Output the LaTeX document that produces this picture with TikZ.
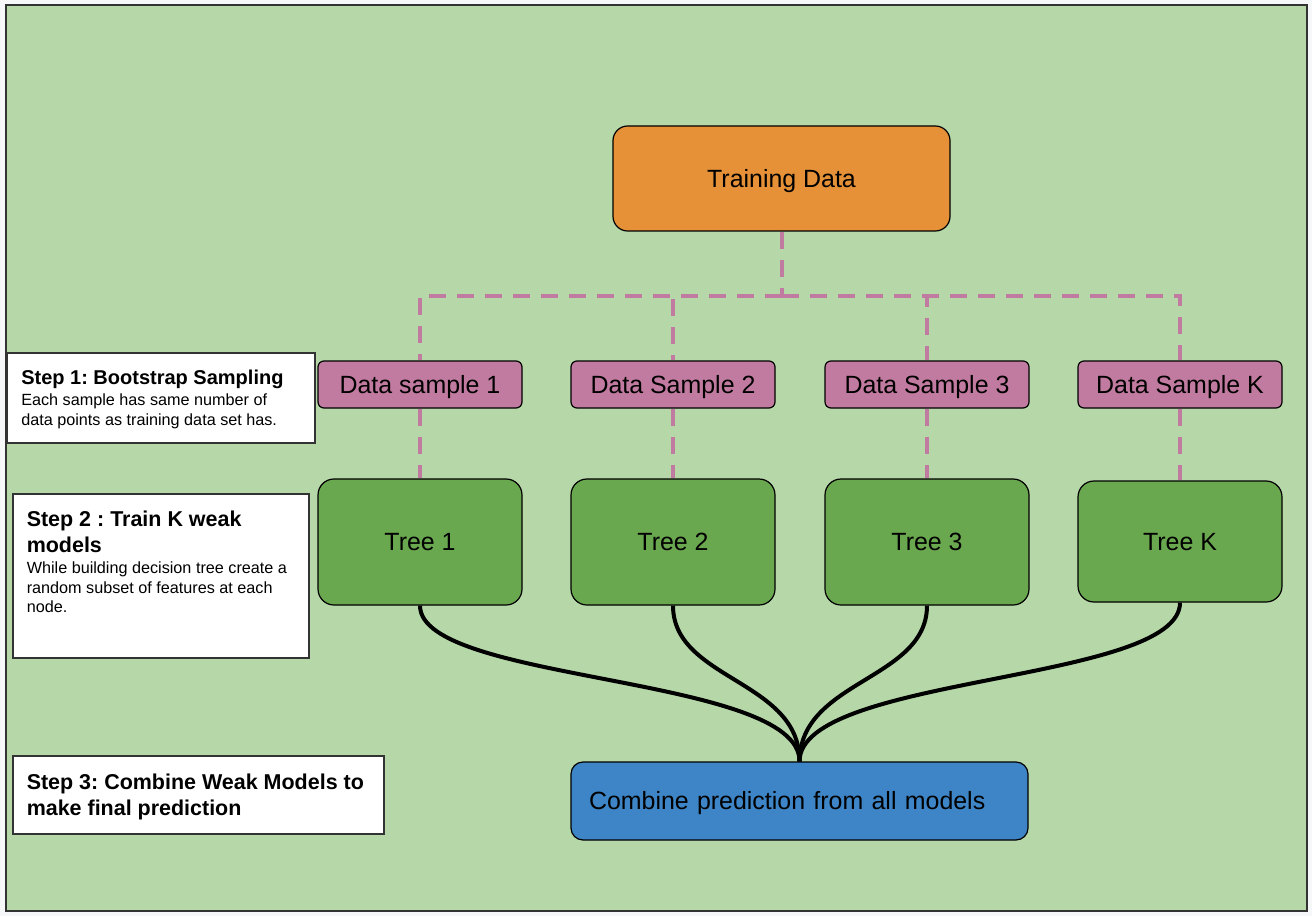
\documentclass[tikz,border=0pt]{standalone}
\usepackage{fontspec}
\setmainfont{Liberation Sans}
\usetikzlibrary{calc}
\frenchspacing

\definecolor{pagegray}{HTML}{F6F7F9}
\definecolor{bggreen}{HTML}{B6D7A8}
\definecolor{trainorange}{HTML}{E69138}
\definecolor{samplepink}{HTML}{C27BA0}
\definecolor{treegreen}{HTML}{6AA84F}
\definecolor{combineblue}{HTML}{3D85C6}

\begin{document}
\begin{tikzpicture}[x=0.75pt, y=-0.75pt,
    box/.style={draw=black, line width=0.9pt, inner sep=0pt, text height=13.4pt, text depth=-1.2pt, font=\fontsize{18.7}{22}\selectfont},
    trainbox/.style={box, fill=trainorange, rounded corners=11pt, minimum width=252.75pt, minimum height=78.75pt},
    samplebox/.style={box, fill=samplepink, rounded corners=4.5pt, minimum width=153pt, minimum height=35.25pt},
    treebox/.style={box, fill=treegreen, rounded corners=12pt, minimum width=153pt, minimum height=94.5pt},
    combinebox/.style={box, fill=combineblue, rounded corners=9pt, minimum width=342.75pt, minimum height=58.5pt, text width=315.75pt, align=left},
    stepbox/.style={draw=black!80, line width=0.9pt, fill=white, inner sep=0pt},
    steptitle/.style={inner sep=0pt, anchor=base west, align=left, font=\bfseries\fontsize{16.1}{19.2}\selectfont},
    stepnote/.style={inner sep=0pt, anchor=base west, align=left, font=\fontsize{12.15}{14.6}\selectfont},
    samplink/.style={draw=samplepink, line width=3pt, dash pattern=on 12.75pt off 8.25pt},
    merge/.style={draw=black, line width=3pt}]

    % page and frame
    \fill[pagegray] (0,0) rectangle (1312,916);
    \useasboundingbox (0,0) rectangle (1312,916);
    \draw[fill=bggreen, draw=black!80, line width=1.5pt] (6,5) rectangle (1307,911);

    % steps on the left (multi-line texts sit on their last baseline)
    \node[stepbox, minimum width=231pt, minimum height=67.5pt] (st1) at (161,398) {};
    \node[steptitle, font=\bfseries\fontsize{15}{18}\selectfont] (st1title) at (21,384.5) {Step 1: Bootstrap Sampling};
    \node[stepnote] (st1note) at (21,425) {Each sample has same number of\\data points as training data set has.};

    \node[stepbox, minimum width=222pt, minimum height=123pt] (st2) at (161,576) {};
    \node[steptitle] (st2title) at (26.5,552.3) {Step 2 : Train K weak\\models};
    \node[stepnote] (st2note) at (26.5,612.5) {While building decision tree create a\\random subset of features at each\\node.};

    \node[stepbox, minimum width=278.25pt, minimum height=58.5pt] (st3) at (198.5,795) {};
    \node[steptitle] (st3title) at (26.5,815) {Step 3: Combine Weak Models to\\make final prediction};

    % boxes
    \node[trainbox] (train) at (781.5,178.5) {Training Data};

    \node[samplebox] (s1) at (420,384.5) {Data sample 1};
    \node[samplebox] (s2) at (673,384.5) {Data Sample 2};
    \node[samplebox] (s3) at (927,384.5) {Data Sample 3};
    \node[samplebox] (sk) at (1180,384.5) {Data Sample K};

    \node[treebox] (t1) at (420,542) {Tree 1};
    \node[treebox] (t2) at (673,542) {Tree 2};
    \node[treebox] (t3) at (927,542) {Tree 3};
    \node[treebox, minimum height=90.75pt] (tk) at (1180,541.5) {Tree K};

    \node[combinebox] (comb) at (799.5,801) {Combine prediction from all models};

    % sampling links
    \draw[samplink] (train.south) -- ++(0,64) coordinate (split);
    \foreach \s/\t in {s1/t1, s2/t2, s3/t3, sk/tk} {
        \draw[samplink] (split) -| (\s.north);
        \draw[samplink] (\s.south) -- (\t.north);
    }

    % merging the trees
    \draw[merge] (t1.south) .. controls (420,683) and (800,675) .. (comb.north);
    \draw[merge] (t2.south) .. controls (673,680) and (800,680) .. (comb.north);
    \draw[merge] (t3.south) .. controls (927,680) and (800,680) .. (comb.north);
    \draw[merge] (tk.south) .. controls (1180,683) and (800,675) .. (comb.north);
\end{tikzpicture}
\end{document}
